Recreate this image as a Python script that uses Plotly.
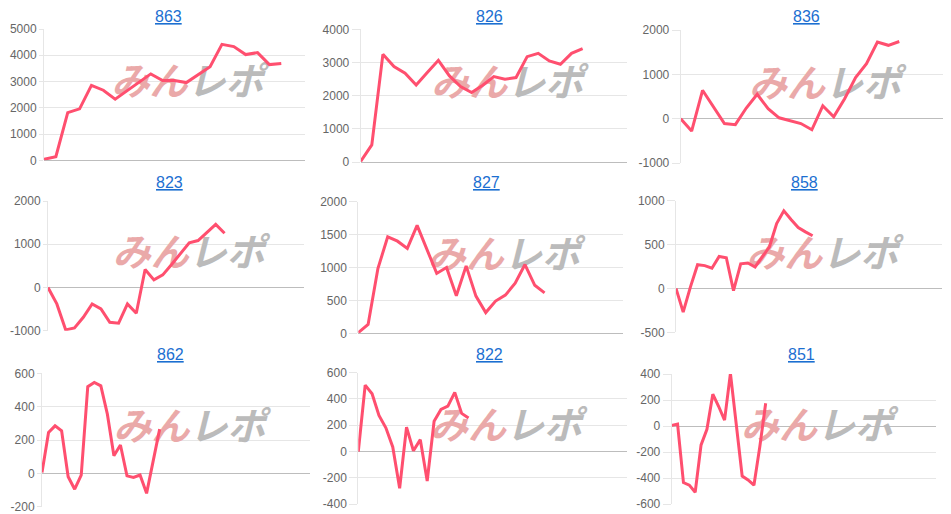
import plotly.graph_objects as go

# machine numbers shown as panel titles
titles = ["863", "826", "836", "823", "827", "858", "862", "822", "851"]

# cumulative values
m863 = [40, 140, 1815, 1960, 2855, 2670, 2330, 2640, 2960, 3290, 3035, 3035, 2960, 3250, 3565, 4415, 4330, 4025, 4100, 3645, 3690]
m826 = [20, 515, 3245, 2875, 2675, 2320, 2695, 3065, 2595, 2275, 2095, 2315, 2575, 2495, 2545, 3175, 3275, 3045, 2945, 3275, 3415]
m836 = [0, -280, 640, 260, -110, -135, 240, 550, 225, 20, -40, -110, -250, 290, 40, 450, 925, 1240, 1730, 1655, 1740]
m823 = [0, -380, -980, -935, -690, -380, -495, -805, -825, -380, -595, 415, 175, 290, 530, 780, 1035, 1085, 1280, 1460, 1255]
m827 = [10, 135, 985, 1465, 1400, 1290, 1640, 1280, 910, 1000, 570, 1025, 565, 315, 490, 580, 760, 1045, 730, 615]
m858 = [0, -270, 15, 270, 260, 230, 365, 350, -25, 280, 290, 245, 360, 475, 740, 885, 785, 695, 645, 600]
m862 = [5, 245, 285, 255, -20, -95, -10, 520, 545, 525, 355, 105, 170, -15, -25, -10, -120, 80, 265]
m822 = [0, 505, 440, 275, 180, 35, -280, 185, 5, 90, -225, 230, 320, 345, 450, 290, 255]
m851 = [5, 15, -435, -455, -510, -145, -25, 245, 150, 45, 405, 10, -385, -415, -455, -160, 175]

series = [m863, m826, m836, m823, m827, m858, m862, m822, m851]

# number of (hidden) x categories on each panel
slots = [23, 25, 25, 30, 28, 38, 42, 40, 46]

# y tick values per panel
y_ticks = [
    [0, 1000, 2000, 3000, 4000, 5000],
    [0, 1000, 2000, 3000, 4000],
    [-1000, 0, 1000, 2000],
    [-1000, 0, 1000, 2000],
    [0, 500, 1000, 1500, 2000],
    [-500, 0, 500, 1000],
    [-200, 0, 200, 400, 600],
    [-400, -200, 0, 200, 400, 600],
    [-600, -400, -200, 0, 200, 400],
]

# the page body has an 8px margin, so the figure starts 8px in
OFF = 8
W, H = 951 - OFF, 514 - OFF
# plot areas in screen pixels: left, right, top, bottom
areas = [
    (44, 305, 29, 160.3), (360.7, 627, 29.3, 162), (680.7, 943, 30, 163),
    (48, 304, 201, 330.7), (358.3, 623, 201.7, 333.3), (676, 942, 200.7, 332.3),
    (42, 310, 373.3, 506.7), (358.3, 627, 372.7, 504), (671.7, 936, 374, 504),
]
title_xy = [(168, 16.5), (489, 16.5), (806, 16.5),
            (169, 182), (486, 182), (804, 182),
            (170, 354), (490, 354), (801, 354)]
# left column has shorter tick marks so its labels stay on the page
tick_len = [4, 8, 8, 4, 8, 8, 4, 8, 8]

LINE = "#ff4f6f"
GRID = "#e6e6e6"
TICKFONT = dict(family="Arial", size=12, color="#666666")
WATERMARK = ('<span style="color:#eaa9a9">みん</span>'
             '<span style="color:#bbbbbb">レポ</span>')

fig = go.Figure()
annotations = []

for i, vals in enumerate(series):
    n = i + 1
    xa = "x" if n == 1 else f"x{n}"
    ya = "y" if n == 1 else f"y{n}"
    ticks = y_ticks[i]
    y0, y1 = ticks[0], ticks[-1]
    x1 = slots[i] - 1

    # watermark drawn first so the line sits on top of it
    fig.add_trace(go.Scatter(
        x=[x1 * 0.55], y=[y0 + (y1 - y0) * 0.57],
        mode="text", text=[WATERMARK],
        textfont=dict(family="Noto Sans CJK JP", size=38, weight="bold", style="italic"),
        hoverinfo="skip", xaxis=xa, yaxis=ya,
    ))
    fig.add_trace(go.Scatter(
        x=list(range(len(vals))), y=vals,
        mode="lines", line=dict(color=LINE, width=3),
        xaxis=xa, yaxis=ya,
    ))

    l, r, t, b = [v - OFF for v in areas[i]]
    fig.layout[f"xaxis{n if n > 1 else ''}"] = dict(
        domain=[max(l / W, 0), min(r / W, 1)], anchor=ya, range=[0, x1],
        showticklabels=False, showgrid=False, zeroline=False, showline=False,
        automargin=False, fixedrange=True,
    )
    fig.layout[f"yaxis{n if n > 1 else ''}"] = dict(
        domain=[max(1 - b / H, 0), min(1 - t / H, 1)], anchor=xa, range=[y0, y1],
        tickvals=ticks, ticktext=[str(v) for v in ticks], tickfont=TICKFONT,
        ticks="outside", ticklen=tick_len[i], tickcolor=GRID,
        showgrid=True, gridcolor=GRID, gridwidth=1,
        zeroline=True, zerolinecolor="#bdbdbd", zerolinewidth=1,
        showline=True, linecolor=GRID, linewidth=1,
        automargin=False, fixedrange=True,
    )

    tx, ty = title_xy[i]
    annotations.append(dict(
        text=f"<u>{titles[i]}</u>", x=(tx - OFF) / W, y=1 - (ty - OFF) / H,
        xref="paper", yref="paper", showarrow=False,
        xanchor="center", yanchor="middle",
        font=dict(family="Arial", size=16, color="#1c6fd1"),
    ))

fig.update_layout(
    width=W, height=H,
    margin=dict(l=0, r=0, t=0, b=0),
    paper_bgcolor="white", plot_bgcolor="white",
    showlegend=False,
    annotations=annotations,
)

fig.write_html("out.html")
